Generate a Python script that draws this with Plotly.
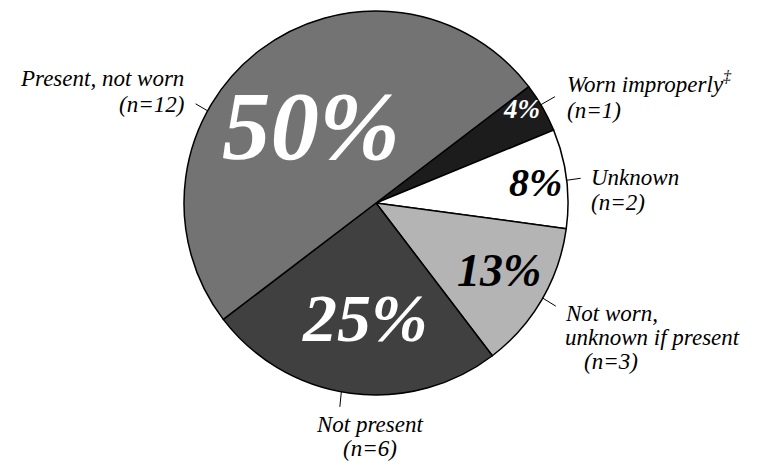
import math
import plotly.graph_objects as go

# ---- data ----
labels = ["Worn improperly", "Unknown", "Not worn, unknown if present", "Not present", "Present, not worn"]
counts = [1, 2, 3, 6, 12]
label_lines = [
    ["Worn improperly<sup>‡</sup>", "(n=1)"],
    ["Unknown", "(n=2)"],
    ["Not worn,", "unknown if present", "(n=3)"],
    ["Not present", "(n=6)"],
    ["Present, not worn", "(n=12)"],
]

# ---- styles ----
colors = ["#1c1c1c", "#ffffff", "#b4b4b4", "#404040", "#737373"]
pct_colors = ["white", "black", "black", "white", "white"]
pct_sizes = [27, 40, 46, 68, 97]
pct_frac = [0.90, 0.84, 0.73, 0.60, 0.52]
pct_dang = [-3, 0, -1.5, -2, -3]
lead_dang = [-1, 0.5, -0.5, 2.7, -24]
lead_vec = [(14, -8), (14, -2), (13, 8), (-1.5, 15), (-12, -7)]
# label line anchors relative to leader end: (dx, dy first line, xanchor, line spacing, per-line dx)
lab_off = [
    (10, -14, "left", 28, [0, 0]),
    (8, -1, "left", 25, [0, 0]),
    (7, 7, "left", 24, [0, 0, 19]),
    (30, 18, "center", 24, [0, 0]),
    (-10, -25, "right", 26, [0, 0]),
]
FONT = "Liberation Serif"
LAB_SIZE = 23
ROT = 52.7

W, H = 757, 466
ml, mt, pw, ph = 76, 11, 600, 384
mr = W - ml - pw
mb = H - mt - ph
cx, cy = ml + pw / 2, mt + ph / 2
R = min(pw, ph) / 2


def px(x, y):
    return (x - ml) / pw, 1 - (y - mt) / ph


fig = go.Figure(go.Pie(
    labels=labels, values=counts, sort=False, direction="clockwise",
    rotation=ROT, textinfo="none", hoverinfo="label+value",
    marker=dict(colors=colors, line=dict(color="black", width=1.5)),
    showlegend=False,
))

total = sum(counts)
ann = []
shapes = []
start = ROT
for i, v in enumerate(counts):
    span = v / total * 360
    mid = start + span / 2
    start += span
    # percent text
    a = math.radians(mid + pct_dang[i])
    r = R * pct_frac[i]
    tx, ty = cx + r * math.sin(a), cy - r * math.cos(a)
    pct = int(math.floor(v / total * 100 + 0.5))
    xp, yp = px(tx, ty)
    ann.append(dict(x=xp, y=yp, xref="paper", yref="paper", showarrow=False,
                    text=f"{pct}%", xanchor="center", yanchor="middle",
                    font=dict(family=FONT, size=pct_sizes[i], color=pct_colors[i],
                              style="italic", weight="bold")))
    # leader line
    b = math.radians(mid + lead_dang[i])
    x0, y0 = cx + R * math.sin(b), cy - R * math.cos(b)
    x1, y1 = x0 + lead_vec[i][0], y0 + lead_vec[i][1]
    p0, p1 = px(x0, y0), px(x1, y1)
    shapes.append(dict(type="line", xref="paper", yref="paper", x0=p0[0], y0=p0[1],
                       x1=p1[0], y1=p1[1], line=dict(color="black", width=1)))
    # label lines
    dx, dy, xa, sp, ldx = lab_off[i]
    for j, line in enumerate(label_lines[i]):
        lx, ly = x1 + dx + ldx[j], y1 + dy + j * sp
        q = px(lx, ly)
        ann.append(dict(x=q[0], y=q[1], xref="paper", yref="paper", showarrow=False,
                        text=line, xanchor=xa, yanchor="middle",
                        font=dict(family=FONT, size=LAB_SIZE, color="black", style="italic")))

fig.update_layout(
    width=W, height=H,
    margin=dict(l=ml, r=mr, t=mt, b=mb),
    paper_bgcolor="white", plot_bgcolor="white",
    annotations=ann, shapes=shapes,
)
fig.write_html("out.html", config={"displayModeBar": False},
               post_script=["document.body.style.margin='0';document.body.style.overflow='hidden';"])
